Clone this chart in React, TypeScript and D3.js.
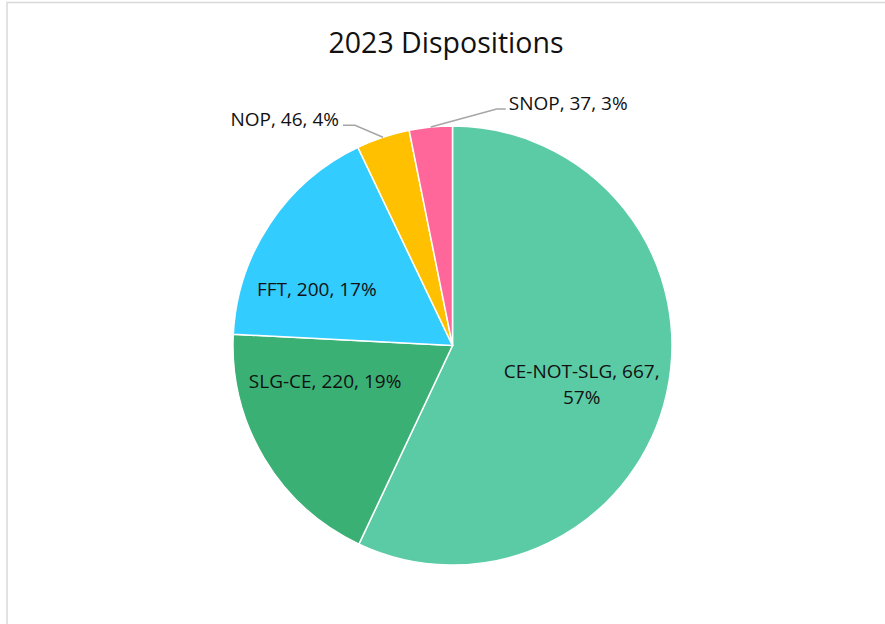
import React from "react";
import * as d3 from "d3";

const categories = ["CE-NOT-SLG", "SLG-CE", "FFT", "NOP", "SNOP"];
const values = [667, 220, 200, 46, 37];
const percents = ["57%", "19%", "17%", "4%", "3%"];
const colors = ["#5BCBA6", "#3BB075", "#33CCFF", "#FFC000", "#FF6699"];
const title = "2023 Dispositions";

// layout config (not data)
const W = 885, H = 624;
const cx = 452.5, cy = 345.5, R = 219.5;
const insideNudge: Record<number, [number, number]> = {
  0: [-10, 8],
  1: [-5, -37],
  2: [-17, 24],
};
// outside label leader geometry: elbow offset relative to arc point
const outsideCfg: Record<number, { elbow: [number, number]; endDx: number; anchor: "start" | "end" }> = {
  3: { elbow: [-28, -12], endDx: -12, anchor: "end" },
  4: { elbow: [66, -18], endDx: 9, anchor: "start" },
};

export default function App() {
  const pie = d3.pie<number>().sort(null).value((d) => d);
  const arcs = pie(values);
  const arcGen = d3.arc<d3.PieArcDatum<number>>().innerRadius(0).outerRadius(R);
  const labelArc = d3.arc<d3.PieArcDatum<number>>().innerRadius(R * 0.65).outerRadius(R * 0.65);
  const edgeArc = d3.arc<d3.PieArcDatum<number>>().innerRadius(R).outerRadius(R);
  const font = "'Open Sans', sans-serif";
  const fs = 19;

  return (
    <svg
      width={W}
      height={H}
      style={{ position: "absolute", left: 0, top: 0, background: "#fff" }}
    >
      <rect x={7} y={2.5} width={W + 20} height={H + 20} fill="#fff" stroke="#d9d9d9" strokeWidth={1.5} />
      <text x={446} y={53} textAnchor="middle" fontFamily={font} fontSize={28.5} fill="#111">
        {title}
      </text>
      <g transform={`translate(${cx},${cy})`}>
        {arcs.map((a, i) => (
          <path key={i} d={arcGen(a) || ""} fill={colors[i]} stroke="#fff" strokeWidth={1.5} />
        ))}
      </g>
      {arcs.map((a, i) => {
        const text = `${categories[i]}, ${values[i]}, ${percents[i]}`;
        if (insideNudge[i]) {
          const [x0, y0] = labelArc.centroid(a);
          const [nx, ny] = insideNudge[i];
          const x = cx + x0 + nx;
          const y = cy + y0 + ny;
          if (i === 0) {
            return (
              <text key={i} textAnchor="middle" fontFamily={font} fontSize={fs} fill="#111">
                <tspan x={x} y={y - 7}>{`${categories[i]}, ${values[i]},`}</tspan>
                <tspan x={x} y={y + 19}>{percents[i]}</tspan>
              </text>
            );
          }
          return (
            <text key={i} x={x} y={y + 6} textAnchor="middle" fontFamily={font} fontSize={fs} fill="#111">
              {text}
            </text>
          );
        }
        const cfg = outsideCfg[i];
        const [ex, ey] = edgeArc.centroid(a);
        const p0: [number, number] = [cx + ex, cy + ey];
        const p1: [number, number] = [p0[0] + cfg.elbow[0], p0[1] + cfg.elbow[1]];
        const p2: [number, number] = [p1[0] + cfg.endDx, p1[1]];
        const tx = p2[0] + (cfg.anchor === "end" ? -4 : 3);
        return (
          <g key={i}>
            <polyline
              points={[p0, p1, p2].map((p) => p.join(",")).join(" ")}
              fill="none"
              stroke="#a6a6a6"
              strokeWidth={1.5}
            />
            <text x={tx} y={p2[1] + 1} textAnchor={cfg.anchor} fontFamily={font} fontSize={fs} fill="#111">
              {text}
            </text>
          </g>
        );
      })}
    </svg>
  );
}
